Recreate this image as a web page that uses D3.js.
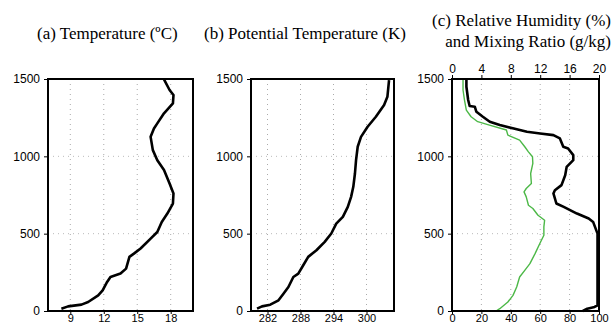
<!DOCTYPE html>
<html>
<head>
<meta charset="utf-8">
<script src="https://cdn.jsdelivr.net/npm/d3@7"></script>
<style>
  body { margin: 0; background: #fff; }
  svg { display: block; }
  .tick text { font-family: "Liberation Sans", Arial, sans-serif; font-size: 12px; fill: #000; }
  .xlab .tick text { font-size: 11px; }
  .title { font-family: "Liberation Serif", "Times New Roman", serif; font-size: 17px; fill: #000; }
</style>
</head>
<body>
<div id="chart"></div>
<script>
// heights (m) shared by the y axes
const heightTicks = [0, 500, 1000, 1500];

// (a) temperature profile
const tempHeight = [15, 30, 41, 58, 101, 134, 188, 220, 242, 274, 350, 371, 404, 468, 511, 576, 630, 695, 760, 824, 911, 975, 1040, 1126, 1180, 1213, 1278, 1342, 1396, 1429, 1498];
const tempValue = [8.2, 8.8, 10.0, 10.6, 11.5, 11.9, 12.3, 12.6, 13.5, 14.0, 14.3, 14.7, 15.3, 16.2, 16.8, 17.2, 17.7, 18.2, 18.25, 17.9, 17.4, 16.8, 16.4, 16.2, 16.5, 16.8, 17.4, 18.2, 18.25, 17.9, 17.4];
const tempTicks = [9, 12, 15, 18];

// (b) potential temperature profile
const thetaHeight = [15, 30, 41, 69, 112, 155, 220, 242, 296, 350, 393, 447, 501, 565, 609, 673, 738, 803, 889, 975, 1062, 1126, 1191, 1256, 1332, 1385, 1493];
const thetaValue = [280.1, 281.0, 282.5, 284.0, 284.9, 285.8, 286.7, 287.6, 288.5, 289.4, 290.9, 292.4, 293.6, 294.5, 295.7, 296.6, 297.2, 297.6, 297.9, 298.1, 298.4, 299.0, 300.2, 301.7, 303.2, 303.8, 304.1];
const thetaTicks = [282, 288, 294, 300];

// (c) relative humidity (%) and mixing ratio (g/kg)
const rhHeight = [0, 15, 26, 37, 500, 576, 598, 630, 673, 695, 760, 781, 814, 878, 932, 975, 1008, 1051, 1062, 1116, 1137, 1148, 1159, 1180, 1202, 1224, 1256, 1288, 1321, 1325, 1364, 1450, 1500];
const rhValue = [89, 92, 97, 99, 99, 96, 93, 85, 76, 71, 69, 70, 74.5, 77, 78, 82.5, 82.5, 79, 75.7, 73.4, 69, 60, 51, 42, 32.5, 25.7, 21, 16.6, 15.5, 12, 11, 9.8, 9.8];
const rhTicks = [0, 20, 40, 60, 80, 100];

const mrHeight = [0, 15, 58, 101, 155, 220, 263, 306, 371, 436, 490, 544, 587, 619, 663, 684, 738, 770, 792, 824, 889, 954, 997, 1029, 1062, 1105, 1137, 1170, 1202, 1224, 1256, 1299, 1364, 1429, 1500];
const mrValue = [6.0, 6.5, 7.6, 8.3, 8.8, 9.2, 9.9, 10.6, 11.3, 11.95, 12.5, 12.5, 12.6, 11.7, 11.0, 10.4, 10.1, 9.8, 10.1, 10.8, 10.7, 11.0, 10.95, 10.4, 9.9, 9.2, 7.6, 7.4, 5.1, 3.5, 2.6, 1.95, 1.7, 1.5, 1.5];
const mrTicks = [0, 4, 8, 12, 16, 20];

const W = 611, H = 325;
const plotTop = 79, plotBottom = 311;

const svg = d3.select("#chart").append("svg")
  .attr("width", W).attr("height", H);

const y = d3.scaleLinear().domain([0, 1500]).range([plotBottom, plotTop]);

function panel(x0, x1, xDomain, xTicks) {
  const x = d3.scaleLinear().domain(xDomain).range([x0, x1]);
  const g = svg.append("g");

  // dotted grid
  g.append("g").selectAll("line")
    .data(xTicks.filter(d => d > xDomain[0] && d < xDomain[1]))
    .join("line")
    .attr("x1", d => x(d)).attr("x2", d => x(d))
    .attr("y1", plotTop).attr("y2", plotBottom)
    .attr("stroke", "#aaa").attr("stroke-width", 1).attr("stroke-dasharray", "1,4");
  g.append("g").selectAll("line")
    .data([500, 1000])
    .join("line")
    .attr("x1", x0).attr("x2", x1)
    .attr("y1", d => y(d)).attr("y2", d => y(d))
    .attr("stroke", "#bbb").attr("stroke-width", 1).attr("stroke-dasharray", "1,4");

  // height axis
  g.append("g")
    .attr("transform", `translate(${x0},0)`)
    .call(d3.axisLeft(y).tickValues(heightTicks).tickFormat(d3.format("d")).tickSize(4).tickPadding(4))
    .call(a => a.select(".domain").remove());
  return { x, g };
}

function frame(g, x0, x1) {
  g.append("rect")
    .attr("x", x0).attr("y", plotTop)
    .attr("width", x1 - x0).attr("height", plotBottom - plotTop)
    .attr("fill", "none").attr("stroke", "#000").attr("stroke-width", 2);
}

function curve(g, x, xs, hs, color, width) {
  const pts = hs.map((h, i) => [xs[i], h]);
  g.append("path")
    .datum(pts)
    .attr("fill", "none")
    .attr("stroke", color)
    .attr("stroke-width", width)
    .attr("stroke-linejoin", "round")
    .attr("d", d3.line().x(d => x(d[0])).y(d => y(d[1])));
}

function bottomAxis(x, ticks) {
  svg.append("g")
    .attr("class", "xlab")
    .attr("transform", `translate(0,${plotBottom})`)
    .call(d3.axisBottom(x).tickValues(ticks).tickSize(3).tickPadding(0))
    .call(a => a.select(".domain").remove());
}

// (a)
const pa = panel(48, 193, [7, 20], tempTicks);
curve(pa.g, pa.x, tempValue, tempHeight, "#000", 2.6);
bottomAxis(pa.x, tempTicks);
frame(pa.g, 48, 193);

// (b)
const pb = panel(251, 394, [279, 305], thetaTicks);
curve(pb.g, pb.x, thetaValue, thetaHeight, "#000", 2.6);
bottomAxis(pb.x, thetaTicks);
frame(pb.g, 251, 394);

// (c)
const pc = panel(452, 599, [0, 100], rhTicks);
const xMr = d3.scaleLinear().domain([0, 20]).range([452, 599]);
curve(pc.g, xMr, mrValue, mrHeight, "#4cb847", 1.4);
curve(pc.g, pc.x, rhValue, rhHeight, "#000", 2.6);
bottomAxis(pc.x, rhTicks);
svg.append("g")
  .attr("transform", `translate(0,${plotTop})`)
  .call(d3.axisTop(xMr).tickValues(mrTicks).tickSize(4).tickPadding(2))
  .call(a => a.select(".domain").remove());
frame(pc.g, 452, 599);

// titles
svg.append("text").attr("class", "title").attr("x", 37).attr("y", 39).text("(a) Temperature (\u00baC)");
svg.append("text").attr("class", "title").attr("x", 204).attr("y", 39).text("(b) Potential Temperature (K)");
svg.append("text").attr("class", "title").attr("x", 611).attr("y", 26).attr("text-anchor", "end").text("(c) Relative Humidity (%)");
svg.append("text").attr("class", "title").attr("x", 611).attr("y", 47).attr("text-anchor", "end").text("and Mixing Ratio (g/kg)");
</script>
</body>
</html>
